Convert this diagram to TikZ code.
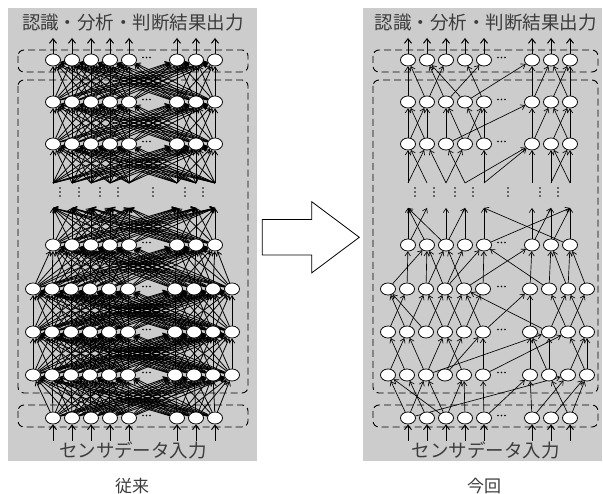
\documentclass[tikz,border=0pt]{standalone}
\usepackage{fontspec}
\newfontfamily\jp{Noto Sans CJK JP}
\usetikzlibrary{arrows.meta,shapes.geometric}
\pgfdeclarelayer{panel}
\pgfdeclarelayer{edges}
\pgfsetlayers{panel,edges,main}
\definecolor{panelgray}{RGB}{204,204,204}
\definecolor{txt}{RGB}{60,60,60}
\tikzset{
  neuron/.style={ellipse, draw, fill=white, line width=0.75pt, minimum width=15pt, minimum height=12pt, inner sep=0pt},
  edge/.style={line width=0.65pt, -{Straight Barb[length=4pt,width=5.5pt]}},
  denseedge/.style={edge, line width=0.8pt},
  io/.style={line width=1pt, -{Straight Barb[length=4.5pt,width=7pt]}},
  dbox/.style={dash pattern=on 7pt off 4pt, line width=0.9pt, rounded corners=6pt},
  lbl/.style={font=\jp\fontsize{18.5}{20}\selectfont, text=txt, inner sep=0pt},
  caplbl/.style={font=\jp\fontsize{17}{18}\selectfont, text=txt, inner sep=0pt},
  bigarrow/.style={fill=white, draw=black, line width=0.8pt, line join=miter}
}
\def\narrowx{53/1,72/2,91/3,110/4,129/5,177/6,196/7,215/8}
\def\widex{33/1,52/2,71/3,90/4,109/5,128/6,175/7,194/8,213/9,232/10}
\begin{document}
\begin{tikzpicture}[x=1pt,y=-1pt]
\useasboundingbox (0,0) rectangle (603,494);
\foreach \P/\dx/\gr/\br in {L/0/257/248,R/355/247/243}{
 \begin{scope}[xshift=\dx pt]
  \begin{pgfonlayer}{panel}
   \fill[panelgray] (8,8) rectangle (\gr,461);
   \draw[dbox] (18,50) rectangle (\br,72);
   \draw[dbox] (18,80) rectangle (\br,393);
   \draw[dbox] (18,405) rectangle (\br,427);
  \end{pgfonlayer}
  \node[lbl] (\P-title) at ({(18+\br)/2},23) {認識・分析・判断結果出力};
  \node[lbl] (\P-input) at ({(18+\br)/2},450) {センサデータ入力};
  % narrow layers
  \foreach \l/\y in {0/418,4/245,5/144,6/102,7/60}{
    \foreach \x/\k in \narrowx {\node[neuron] (\P-\l-\k) at (\x,\y) {};}
    \foreach \x in {143,146.5,150} {\fill (\x,\y-2.5) circle (0.9);}
  }
  % wide layers
  \foreach \l/\y in {1/375,2/332,3/289}{
    \foreach \x/\k in \widex {\node[neuron] (\P-\l-\k) at (\x,\y) {};}
    \foreach \x in {143,146.5,150} {\fill (\x,\y-2.5) circle (0.9);}
  }
  % stub coordinates and io
  \foreach \x/\k in \narrowx {
    \coordinate (\P-st-\k) at (\x,208);
    \coordinate (\P-sb-\k) at (\x,183);
    \coordinate (\P-top-\k) at (\x,38);
    \coordinate (\P-bot-\k) at (\x,441);
    \draw[io] (\P-7-\k.north) -- (\P-top-\k);
    \draw[io] (\P-bot-\k) -- (\P-0-\k.south);
  }
  % vertical dots
  \foreach \x in {60,79,100,118,153,185,203}{
    \foreach \y in {188,192,196} {\fill (\x,\y) circle (0.9);}
  }
 \end{scope}
}
% left panel: fully connected
\begin{pgfonlayer}{edges}
\foreach \a/\na/\b/\nb in {0/8/1/10,1/10/2/10,2/10/3/10,3/10/4/8,5/8/6/8,6/8/7/8}{
  \foreach \i in {1,...,\na}{\foreach \j in {1,...,\nb}{\draw[denseedge] (L-\a-\i) -- (L-\b-\j);}}
}
\foreach \i in {1,...,8}{\foreach \j in {1,...,8}{
  \draw[denseedge] (L-4-\i) -- (L-st-\j);
  \draw[denseedge] (L-sb-\i) -- (L-5-\j);
}}
% right panel: sparse
\foreach \i/\j in {1/1,1/3,1/9,2/2,3/1,3/3,3/5,4/5,5/6,5/7,6/7,6/9,7/10,8/8,8/10}{\draw[edge] (R-0-\i) -- (R-1-\j);}
\foreach \i/\j in {1/2,2/1,3/2,3/4,4/5,5/4,4/6,6/6,3/8,6/9,7/7,8/7,8/8,9/10,10/10,10/9}{\draw[edge] (R-1-\i) -- (R-2-\j);}
\foreach \i/\j in {2/1,3/1,1/2,2/3,4/3,3/4,5/4,4/5,6/5,5/6,6/7,8/5,7/7,9/8,8/9,10/9,9/10}{\draw[edge] (R-2-\i) -- (R-3-\j);}
\foreach \i/\j in {2/1,1/2,3/2,3/3,4/2,4/4,5/3,4/5,6/5,5/6,8/5,7/6,8/7,9/7,10/8,9/8}{\draw[edge] (R-3-\i) -- (R-4-\j);}
\foreach \i/\j in {1/1,2/1,3/1,1/2,3/3,3/4,4/4,5/5,5/8,8/5,6/6,6/7,7/7,7/8,8/8}{\draw[edge] (R-4-\i) -- (R-st-\j);}
\foreach \i/\j in {1/1,2/1,1/2,3/2,3/4,4/3,4/6,5/6,5/5,6/6,7/7,8/7,7/8,8/8}{\draw[edge] (R-sb-\i) -- (R-5-\j);}
\foreach \i/\j in {1/1,1/2,2/2,2/1,3/3,3/6,4/3,4/5,5/4,5/5,6/6,6/7,7/8,8/7,8/8}{\draw[edge] (R-5-\i) -- (R-6-\j);}
\foreach \i/\j in {1/1,2/1,3/2,4/2,2/3,3/5,5/4,4/6,6/6,6/7,7/8,8/7,8/8}{\draw[edge] (R-6-\i) -- (R-7-\j);}
\end{pgfonlayer}
% big arrow
\draw[bigarrow] (262.3,219.5) -- (311.7,219.5) -- (311.7,201.7) -- (359.3,237.3) -- (311.7,272.9) -- (311.7,255) -- (262.3,255) -- cycle;
\node[caplbl] (cap-left) at (132,486) {従来};
\node[caplbl] (cap-right) at (484,486) {今回};
\end{tikzpicture}
\end{document}
